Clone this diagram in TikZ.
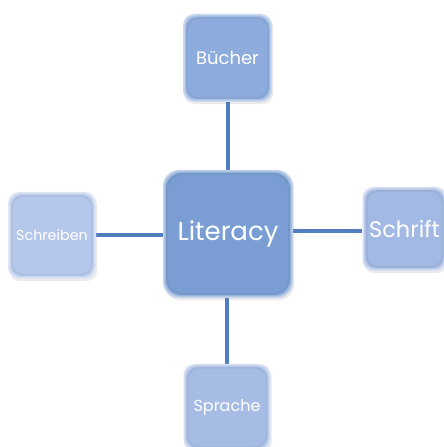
\documentclass[tikz,border=0pt]{standalone}
\usepackage{fontspec}
\setmainfont{Poppins}
\usetikzlibrary{backgrounds,shadows}
\definecolor{linkblue}{HTML}{4F7EBF}
\definecolor{hubface}{HTML}{7A9ED3}
\definecolor{topface}{HTML}{8DACDD}
\definecolor{leftface}{HTML}{B5C7EA}
\definecolor{rightface}{HTML}{A2B9E3}
\definecolor{bottomface}{HTML}{A6BCE5}
\tikzset{
  link/.style={draw=linkblue, line width=4pt},
  % bevelled tile: light rim, softened inner face
  tile/.style args={#1/#2/#3/#4}{
    minimum width=#2, minimum height=#3, inner sep=0pt,
    rounded corners=#4, text=white,
    fill=#1!45!white,
    drop shadow={shadow xshift=1.2pt, shadow yshift=-2.2pt, opacity=0.14, fill=black!55},
    path picture={
      \fill[#1!75!white, rounded corners=#4]
        ([shift={(1.5pt,1.5pt)}]path picture bounding box.south west) rectangle
        ([shift={(-1.5pt,-1.5pt)}]path picture bounding box.north east);
      \fill[#1!96!black, rounded corners=#4]
        ([shift={(3pt,3pt)}]path picture bounding box.south west) rectangle
        ([shift={(-3pt,-3pt)}]path picture bounding box.north east);
      \fill[#1, rounded corners=#4]
        ([shift={(5pt,5pt)}]path picture bounding box.south west) rectangle
        ([shift={(-5pt,-5pt)}]path picture bounding box.north east);
    }
  }
}
\begin{document}
\begin{tikzpicture}[x=1pt,y=1pt]
\useasboundingbox (0,0) rectangle (444,447);

\node[tile={hubface/130pt/128pt/16pt}, font=\fontsize{26}{29}\selectfont] (lit) at (228,213) {Literacy};
\node[tile={topface/89pt/88pt/11pt}, font=\fontsize{18}{21}\selectfont] (buch) at (227.5,389) {Bücher};
\node[tile={leftface/88pt/87pt/11pt}, font=\fontsize{14.3}{17}\selectfont] (schreib) at (52,211.5) {Schreiben};
\node[tile={rightface/84pt/84pt/11pt}, font=\fontsize{22.5}{25}\selectfont] (schrift) at (404.5,218) {Schrift};
\node[tile={bottomface/87pt/87pt/11pt}, font=\fontsize{16}{19}\selectfont] (sprache) at (227,39.5) {Sprache};

\begin{scope}[on background layer]
  \fill[white] (0,0) rectangle (444,447);
  \draw[link] (buch.south) -- (buch.south |- lit.north);
  \draw[link] (sprache.north) -- (sprache.north |- lit.south);
  \draw[link] (schreib.east) -- (schreib.east -| lit.west);
  \draw[link] ([yshift=-2.5pt]schrift.west) -- ([yshift=-2.5pt]schrift.west -| lit.east);
\end{scope}
\end{tikzpicture}
\end{document}
